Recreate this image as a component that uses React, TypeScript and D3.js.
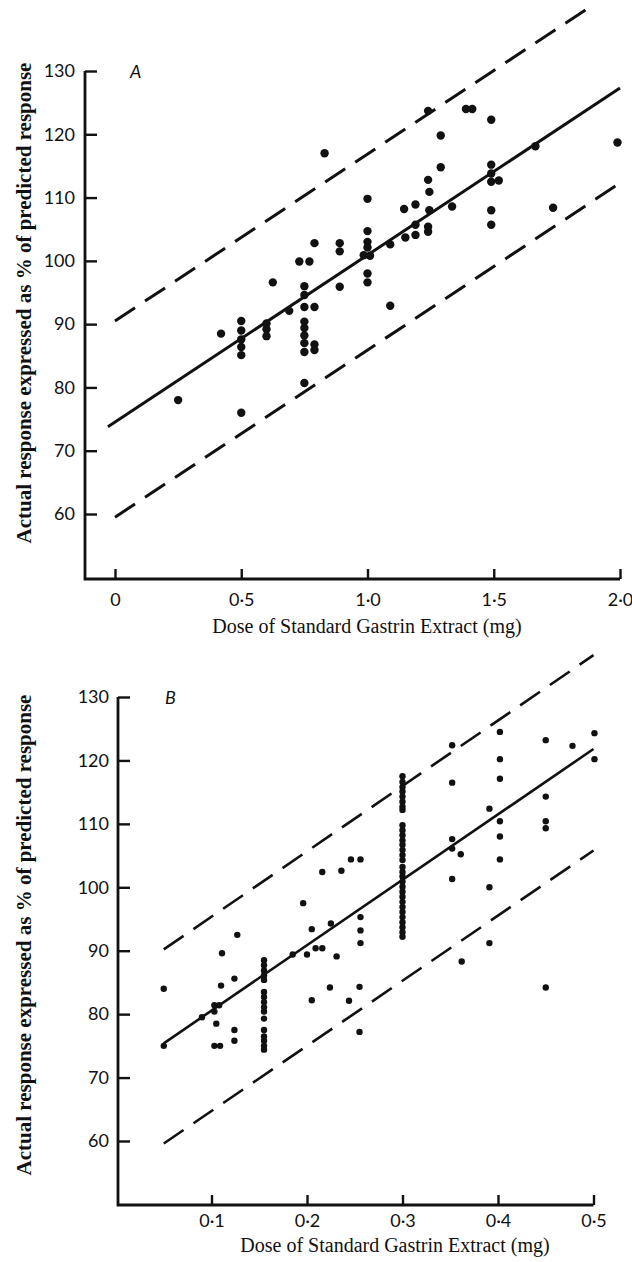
import * as d3 from "d3";
import { useEffect, useRef } from "react";

// Panel A: dose (mg) and response (% of predicted)
const doseA = [0.25, 0.42, 0.5, 0.5, 0.5, 0.5, 0.5, 0.5, 0.6, 0.6, 0.6, 0.625, 0.69, 0.73, 0.77,
  0.75, 0.75, 0.75, 0.75, 0.75, 0.75, 0.75, 0.75, 0.75, 0.79, 0.79, 0.79, 0.79, 0.83,
  0.89, 0.89, 0.89, 1.0, 1.0, 1.0, 1.0, 0.985, 1.01, 1.0, 1.0, 1.09, 1.09, 1.145, 1.15,
  1.19, 1.19, 1.19, 1.24, 1.24, 1.245, 1.245, 1.24, 1.24, 1.29, 1.29, 1.335, 1.39, 1.415,
  1.49, 1.49, 1.49, 1.49, 1.52, 1.49, 1.49, 1.665, 1.735, 1.99];
const respA = [78, 88.5, 90.5, 89, 87.6, 86.4, 85.1, 76, 90.1, 89.2, 88.1, 96.6, 92.1, 99.9, 99.9,
  96.0, 94.6, 92.7, 90.4, 89.4, 88.2, 87.0, 85.6, 80.7, 102.8, 92.7, 86.8, 85.9, 117.0,
  102.8, 101.5, 95.9, 109.8, 104.7, 103.0, 102.1, 100.9, 100.8, 98.0, 96.6, 102.6, 92.9, 108.2, 103.7,
  108.9, 105.7, 104.1, 123.7, 112.8, 110.9, 108.0, 105.4, 104.6, 119.8, 114.8, 108.6, 124.0, 124.0,
  122.3, 115.2, 113.8, 112.5, 112.7, 108.0, 105.7, 118.1, 108.4, 118.7];

// Panel B
const doseB = [0.05, 0.05, 0.09, 0.103, 0.108, 0.103, 0.105, 0.103, 0.109, 0.111, 0.11,
  0.124, 0.127, 0.124, 0.124,
  0.155, 0.155, 0.155, 0.155, 0.155, 0.155, 0.155, 0.155, 0.155, 0.155, 0.155, 0.155, 0.155, 0.155, 0.155, 0.155,
  0.185, 0.196, 0.2, 0.205, 0.205, 0.209, 0.216, 0.216, 0.225, 0.231, 0.224, 0.236, 0.246, 0.256,
  0.256, 0.256, 0.256, 0.255, 0.244, 0.255,
  0.3, 0.3, 0.3, 0.3, 0.3, 0.3, 0.3, 0.3, 0.3, 0.3, 0.3, 0.3, 0.3, 0.3, 0.3, 0.3,
  0.3, 0.3, 0.3, 0.3, 0.3, 0.3, 0.3, 0.3, 0.3, 0.3, 0.3, 0.3, 0.3, 0.3, 0.3,
  0.352, 0.352, 0.352, 0.352, 0.361, 0.352, 0.362, 0.391, 0.391, 0.391,
  0.402, 0.402, 0.402, 0.402, 0.402, 0.402, 0.45, 0.45, 0.45, 0.45, 0.45, 0.478, 0.501, 0.501];
const respB = [84, 75, 79.5, 81.4, 81.4, 80.4, 78.5, 75, 75, 89.6, 84.5,
  85.6, 92.5, 77.5, 75.8,
  88.5, 87.7, 86.9, 86.1, 85.4, 83.5, 82.7, 81.9, 81.1, 80.4, 79.3, 77.5, 76.5, 75.8, 75.0, 74.4,
  89.4, 97.5, 89.4, 93.4, 82.2, 90.4, 90.4, 102.4, 94.3, 89.1, 84.2, 102.6, 104.4, 104.4,
  95.3, 93.2, 91.2, 84.3, 82.1, 77.2,
  117.5, 116.6, 115.8, 115.1, 114.3, 113.5, 112.7, 112.2, 109.8, 109.0, 108.2, 107.4, 106.7, 105.9, 105.1, 104.3,
  103.2, 102.4, 101.7, 100.9, 100.1, 99.3, 98.5, 97.7, 96.9, 96.1, 95.3, 94.5, 93.7, 92.9, 92.2,
  122.4, 116.5, 107.6, 106.1, 105.2, 101.3, 88.3, 112.4, 100.0, 91.2,
  124.5, 120.2, 117.1, 110.4, 108.0, 104.4, 123.2, 114.3, 110.4, 109.3, 84.2, 122.3, 124.3, 120.2];

// fitted line and limits, [dose, response] end points
const fitA: [number, number][] = [[-0.028, 73.8], [2.0, 127.3]];
const upperA: [number, number][] = [[0, 90.5], [1.88, 140.1]];
const lowerA: [number, number][] = [[0, 59.5], [2.0, 112.3]];
const fitB: [number, number][] = [[0.05, 75.4], [0.5, 121.8]];
const upperB: [number, number][] = [[0.05, 90.2], [0.5, 136.6]];
const lowerB: [number, number][] = [[0.05, 59.6], [0.5, 105.8]];

const yTicks = [60, 70, 80, 90, 100, 110, 120, 130];
const xTicksA = [0, 0.5, 1.0, 1.5, 2.0];
const xTicksB = [0.1, 0.2, 0.3, 0.4, 0.5];
const fmtA = (d: number) => (d === 0 ? "0" : d.toFixed(1).replace(".", "\u00b7"));
const fmtB = (d: number) => d.toFixed(1).replace(".", "\u00b7");

const yTitle = "Actual response expressed as % of predicted response";
const xTitle = "Dose of Standard Gastrin Extract (mg)";
const tickFont = "Lato, 'Open Sans', sans-serif";

function Panel({
  dose, resp, fit, upper, lower, xDomain, xRange, yRange, axisX, axisBottom, xTicks, fmt,
  r, lw, letter, letterPos, yTitlePos, xTitleY, xTitleX, tickPadY, tickPadX,
}: any) {
  const gx = useRef<SVGGElement>(null);
  const gy = useRef<SVGGElement>(null);
  const x = d3.scaleLinear(xDomain, xRange);
  const y = d3.scaleLinear([60, 130], yRange);
  const line = d3.line<[number, number]>((d) => x(d[0]), (d) => y(d[1]));

  useEffect(() => {
    if (gx.current) {
      const g = d3.select(gx.current);
      g.call(d3.axisBottom(x).tickValues(xTicks).tickFormat(fmt).tickSizeInner(-10).tickSizeOuter(0).tickPadding(tickPadX));
      g.select(".domain").remove();
      g.selectAll("line").attr("stroke", "#111").attr("stroke-width", 2.4);
      g.selectAll("text").attr("font-family", tickFont).attr("font-size", 18).attr("fill", "#111");
    }
  }, [x]);

  useEffect(() => {
    if (gy.current) {
      const g = d3.select(gy.current);
      g.call(d3.axisLeft(y).tickValues(yTicks).tickSizeInner(-12).tickSizeOuter(0).tickPadding(tickPadY));
      g.select(".domain").remove();
      g.selectAll("line").attr("stroke", "#111").attr("stroke-width", 2.4);
      g.selectAll("text").attr("font-family", tickFont).attr("font-size", 18).attr("fill", "#111");
    }
  }, [y]);

  return (
    <g>
      <g ref={gx} transform={`translate(0,${axisBottom})`} />
      <g ref={gy} transform={`translate(${axisX},0)`} />
      <path d={`M${axisX},${y(130)}V${axisBottom}H${x(xDomain[1])}`} fill="none" stroke="#111" strokeWidth={2.8} />
      <path d={line(fit) || ""} fill="none" stroke="#111" strokeWidth={lw} />
      <path d={line(upper) || ""} fill="none" stroke="#111" strokeWidth={lw} strokeDasharray="24 12" />
      <path d={line(lower) || ""} fill="none" stroke="#111" strokeWidth={lw} strokeDasharray="24 12" />
      <g fill="#111">
        {dose.map((d: number, i: number) => (
          <circle key={i} cx={x(d)} cy={y(resp[i])} r={r} />
        ))}
      </g>
      <text x={letterPos[0]} y={letterPos[1]} fontFamily={tickFont} fontStyle="italic" fontSize={18} fill="#111">{letter}</text>
      <text
        transform={`translate(${yTitlePos[0]},${yTitlePos[1]}) rotate(-90)`}
        textAnchor="middle" fontFamily="'Liberation Serif', serif" fontWeight="bold" fontSize={21} fill="#111"
      >{yTitle}</text>
      <text x={xTitleX} y={xTitleY} textAnchor="middle" fontFamily="'Liberation Serif', serif" fontSize={20} fill="#111">{xTitle}</text>
    </g>
  );
}

export default function App() {
  return (
    <svg width={632} height={1262} style={{ position: "absolute", left: 0, top: 0, background: "#fff" }}>
      <Panel
        dose={doseA} resp={respA} fit={fitA} upper={upperA} lower={lowerA}
        xDomain={[0, 2]} xRange={[115, 620]} yRange={[514, 71]} axisX={85} axisBottom={579}
        xTicks={xTicksA} fmt={fmtA} r={4.2} lw={3} letter="A" letterPos={[130, 78]}
        yTitlePos={[31, 303]} xTitleY={633} xTitleX={367} tickPadY={10} tickPadX={14}
      />
      <Panel
        dose={doseB} resp={respB} fit={fitB} upper={upperB} lower={lowerB}
        xDomain={[0, 0.5]} xRange={[116, 593.5]} yRange={[1141, 697]} axisX={118} axisBottom={1205}
        xTicks={xTicksB} fmt={fmtB} r={3.2} lw={2.6} letter="B" letterPos={[165, 704]}
        yTitlePos={[31, 935]} xTitleY={1252} xTitleX={395} tickPadY={9} tickPadX={9}
      />
    </svg>
  );
}
